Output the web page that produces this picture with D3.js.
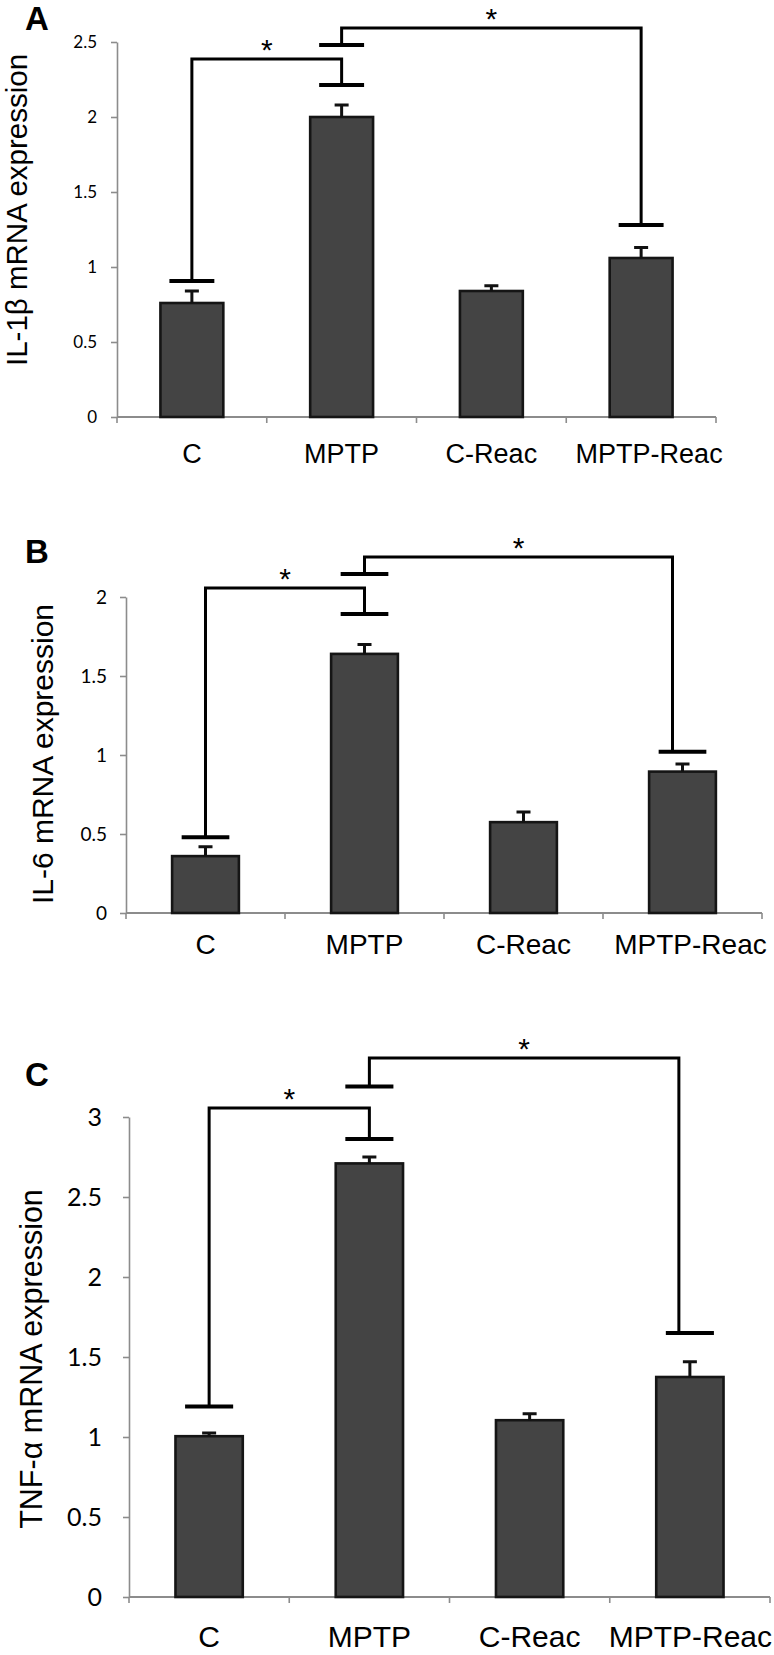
<!DOCTYPE html>
<html>
<head>
<meta charset="utf-8">
<script src="https://cdn.jsdelivr.net/npm/d3@7"></script>
<style>
  html, body { margin: 0; padding: 0; background: #fff; }
  svg { display: block; }
</style>
</head>
<body>
<div id="chart"></div>
<script>
// categories shared by the three panels
const categories = ["C", "MPTP", "C-Reac", "MPTP-Reac"];

// panel A - IL-1b
const il1bMean = [0.76, 2.0, 0.84, 1.06];
const il1bErr = [0.08, 0.08, 0.035, 0.07];
const il1bTicks = [0, 0.5, 1, 1.5, 2, 2.5];
const il1bBrackets = [
    {from: "C", to: "MPTP", fromCap: 0.907, toCap: 2.213, top: 2.387},
    {from: "MPTP", to: "MPTP-Reac", fromCap: 2.48, toCap: 1.28, top: 2.593}
];

// panel B - IL-6
const il6Mean = [0.36, 1.64, 0.575, 0.895];
const il6Err = [0.06, 0.06, 0.065, 0.048];
const il6Ticks = [0, 0.5, 1, 1.5, 2];
const il6Brackets = [
    {from: "C", to: "MPTP", fromCap: 0.48, toCap: 1.892, top: 2.057},
    {from: "MPTP", to: "MPTP-Reac", fromCap: 2.146, toCap: 1.02, top: 2.253}
];

// panel C - TNF-a
const tnfMean = [1.005, 2.71, 1.105, 1.375];
const tnfErr = [0.02, 0.04, 0.04, 0.095];
const tnfTicks = [0, 0.5, 1, 1.5, 2, 2.5, 3];
const tnfBrackets = [
    {from: "C", to: "MPTP", fromCap: 1.19, toCap: 2.8625, top: 3.056},
    {from: "MPTP", to: "MPTP-Reac", fromCap: 3.19, toCap: 1.65, top: 3.369}
];

const width = 774, height = 1655;

// layout of each panel (pixels)
const panels = [
    {letter: "A", title: "IL-1\u03b2 mRNA expression", mean: il1bMean, err: il1bErr, ticks: il1bTicks, brackets: il1bBrackets,
     x0: 117, x1: 716, zero: 417, ppu: 150, letterY: 30, titleX: 27, titleY: 210, titleSize: 29.5,
     tickSize: 17, tickGap: 14, labelSize: 27, labelDy: 46, rightDx: 0},
    {letter: "B", title: "IL-6 mRNA expression", mean: il6Mean, err: il6Err, ticks: il6Ticks, brackets: il6Brackets,
     x0: 126, x1: 762, zero: 913, ppu: 158, letterY: 563, titleX: 53, titleY: 754, titleSize: 30,
     tickSize: 19, tickGap: 13, labelSize: 28, labelDy: 41, rightDx: -10},
    {letter: "C", title: "TNF-\u03b1 mRNA expression", mean: tnfMean, err: tnfErr, ticks: tnfTicks, brackets: tnfBrackets,
     x0: 129, x1: 770, zero: 1597, ppu: 160, letterY: 1086, titleX: 42, titleY: 1359, titleSize: 30.5,
     tickSize: 25, tickGap: 21, labelSize: 30, labelDy: 50, rightDx: -11}
];

const svg = d3.select("#chart").append("svg")
    .attr("width", width)
    .attr("height", height);

const axisGrey = "#8c8c8c";

panels.forEach(p => {
    const g = svg.append("g");
    const yMax = d3.max(p.ticks);

    const x = d3.scaleBand()
        .domain(categories)
        .range([p.x0, p.x1])
        .paddingInner(0.58)
        .paddingOuter(0.29);
    const step = x.step();
    const xc = c => x(c) + x.bandwidth() / 2;

    const y = d3.scaleLinear()
        .domain([0, yMax])
        .range([p.zero, p.zero - yMax * p.ppu]);

    // y axis
    const yAxis = g.append("g")
        .attr("transform", `translate(${p.x0},0)`)
        .call(d3.axisLeft(y).tickValues(p.ticks).tickSize(6).tickSizeOuter(0).tickPadding(p.tickGap)
            .tickFormat(d3.format("~g")));
    yAxis.select(".domain").attr("stroke", axisGrey).attr("stroke-width", 1.6);
    yAxis.selectAll(".tick line").attr("stroke", axisGrey).attr("stroke-width", 1.6);
    yAxis.selectAll(".tick text")
        .attr("fill", "#000")
        .style("font-family", "Lato, 'Open Sans', sans-serif")
        .style("font-size", p.tickSize + "px");

    // x axis line with boundary ticks
    g.append("line")
        .attr("x1", p.x0).attr("x2", p.x1)
        .attr("y1", y(0)).attr("y2", y(0))
        .attr("stroke", axisGrey).attr("stroke-width", 1.8);
    g.selectAll(".xb")
        .data(d3.range(categories.length + 1))
        .join("line")
        .attr("x1", i => p.x0 + i * step).attr("x2", i => p.x0 + i * step)
        .attr("y1", y(0)).attr("y2", y(0) + 6)
        .attr("stroke", axisGrey).attr("stroke-width", 1.6);

    // category labels, kept inside the page on the right
    g.selectAll(".xl")
        .data(categories)
        .join("text")
        .attr("x", c => xc(c) + (c === "MPTP-Reac" ? 8 : 0))
        .attr("y", y(0) + p.labelDy)
        .attr("text-anchor", "middle")
        .style("font-family", "'Liberation Sans', Arial, sans-serif")
        .style("font-size", p.labelSize + "px")
        .text(c => c)
        .each(function() {
            const t = d3.select(this);
            const w = this.getComputedTextLength();
            const cx = +t.attr("x");
            if (cx + w / 2 > width - 2) t.attr("x", width - 2 - w / 2);
        });

    // bars
    const rows = categories.map((c, i) => ({c, m: p.mean[i], e: p.err[i]}));
    g.selectAll(".bar")
        .data(rows)
        .join("rect")
        .attr("x", d => x(d.c))
        .attr("width", x.bandwidth())
        .attr("y", d => y(d.m))
        .attr("height", d => y(0) - y(d.m))
        .attr("fill", "#444444")
        .attr("stroke", "#151515")
        .attr("stroke-width", 2.6);

    // error bars
    g.selectAll(".err")
        .data(rows)
        .join("path")
        .attr("d", d => `M${xc(d.c)},${y(d.m)}V${y(d.m + d.e)}M${xc(d.c) - 7},${y(d.m + d.e)}H${xc(d.c) + 7}`)
        .attr("fill", "none")
        .attr("stroke", "#111")
        .attr("stroke-width", 3);

    // significance brackets
    const capW = step * 0.3;
    p.brackets.forEach(b => {
        const xa = xc(b.from), xb = xc(b.to);
        const va = xa, vb = xb + (b.to === "MPTP-Reac" ? p.rightDx : 0);
        g.append("path")
            .attr("d", `M${xa - capW / 2},${y(b.fromCap)}H${xa + capW / 2}M${xb - capW / 2},${y(b.toCap)}H${xb + capW / 2}`)
            .attr("stroke", "#000").attr("stroke-width", 4).attr("fill", "none");
        g.append("path")
            .attr("d", `M${va},${y(b.fromCap)}V${y(b.top)}H${vb}V${y(b.toCap)}`)
            .attr("stroke", "#000").attr("stroke-width", 3).attr("fill", "none");
        g.append("text")
            .attr("x", (va + vb) / 2)
            .attr("y", y(b.top) + 1)
            .attr("text-anchor", "middle")
            .style("font-family", "'Liberation Sans', Arial, sans-serif")
            .style("font-size", "30px")
            .text("*");
    });

    // y title
    g.append("text")
        .attr("transform", `translate(${p.titleX},${p.titleY}) rotate(-90)`)
        .attr("text-anchor", "middle")
        .style("font-family", "'Liberation Sans', Arial, sans-serif")
        .style("font-size", p.titleSize + "px")
        .text(p.title);

    // panel letter
    g.append("text")
        .attr("x", 25)
        .attr("y", p.letterY)
        .style("font-family", "'Liberation Sans', Arial, sans-serif")
        .style("font-weight", "bold")
        .style("font-size", "33px")
        .text(p.letter);
});
</script>
</body>
</html>
